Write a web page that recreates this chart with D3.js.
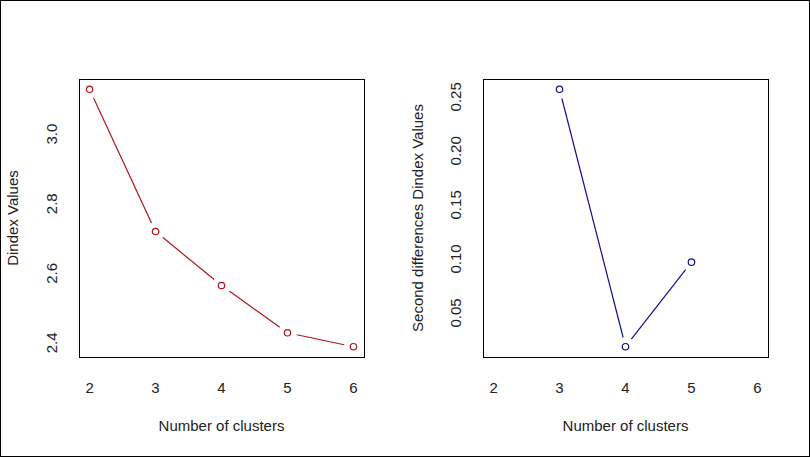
<!DOCTYPE html>
<html><head><meta charset="utf-8">
<script src="https://cdn.jsdelivr.net/npm/d3@7"></script>
<style>html,body{margin:0;padding:0;background:#fff;} svg{display:block;font-family:"Liberation Sans",Arial,sans-serif;}</style>
</head><body>
<svg id="c" width="810" height="457"></svg>
<script>
const clustersLeft = [2, 3, 4, 5, 6];
const dindexValues = [3.129, 2.720, 2.565, 2.429, 2.389];
const clustersRight = [3, 4, 5];
const secondDiffValues = [0.257, 0.0187, 0.097];
const xTicks = [2, 3, 4, 5, 6];
const yTicksLeft = [2.4, 2.6, 2.8, 3.0];
const yTicksRight = [0.05, 0.10, 0.15, 0.20, 0.25];

const svg = d3.select("#c");
svg.append("rect").attr("x",0.5).attr("y",0.5).attr("width",809).attr("height",456)
  .attr("fill","#fff").attr("stroke","#000").attr("stroke-width",1);

function panel(opts){
  const {left, right, top, bottom, xs, ys, yTicks, yFmt, color, ylab, ylabX, tickX} = opts;
  const ext = (a,b)=>{const r=b-a;return [a-0.04*r,b+0.04*r];};
  const x = d3.scaleLinear().domain(ext(2,6)).range([left,right]);
  const yd = d3.extent(ys);
  const y = d3.scaleLinear().domain(ext(yd[0],yd[1])).range([bottom,top]);
  const g = svg.append("g");
  g.append("rect").attr("x",left+0.5).attr("y",top+0.5).attr("width",right-left).attr("height",bottom-top)
    .attr("fill","none").attr("stroke","#000").attr("stroke-width",1);
  // x tick labels
  g.selectAll(".xt").data(xTicks).enter().append("text")
    .attr("x",d=>x(d)).attr("y",393).attr("text-anchor","middle")
    .attr("font-size",15).attr("fill","#222").text(d=>d);
  // y tick labels (rotated)
  g.selectAll(".yt").data(yTicks).enter().append("text")
    .attr("transform",d=>`translate(${tickX},${y(d)}) rotate(-90)`)
    .attr("text-anchor","middle").attr("font-size",15).attr("fill","#222").text(yFmt);
  // axis titles
  g.append("text").attr("x",(left+right)/2).attr("y",431).attr("text-anchor","middle")
    .attr("font-size",15).attr("fill","#222").text("Number of clusters");
  g.append("text").attr("transform",`translate(${ylabX},${(top+bottom)/2}) rotate(-90)`)
    .attr("text-anchor","middle").attr("font-size",15).attr("fill","#222").text(ylab);
  // type="b" segments with gaps
  const pts = xs.map((d,i)=>[x(d), y(ys[i])]);
  const gap = 9.5;
  for(let i=0;i<pts.length-1;i++){
    const [x1,y1]=pts[i],[x2,y2]=pts[i+1];
    const dx=x2-x1, dy=y2-y1, L=Math.hypot(dx,dy);
    if(L>2*gap){
      const ux=dx/L, uy=dy/L;
      g.append("line").attr("x1",x1+ux*gap).attr("y1",y1+uy*gap)
        .attr("x2",x2-ux*gap).attr("y2",y2-uy*gap)
        .attr("stroke",color).attr("stroke-width",1.2);
    }
  }
  g.selectAll("circle").data(pts).enter().append("circle")
    .attr("cx",d=>d[0]).attr("cy",d=>d[1]).attr("r",3.2)
    .attr("fill","none").attr("stroke",color).attr("stroke-width",1.2);
}

panel({left:79, right:364, top:79, bottom:357, xs:clustersLeft, ys:dindexValues,
  yTicks:yTicksLeft, yFmt:d=>d3.format(".1f")(d), color:"#b0141e",
  ylab:"Dindex Values", ylabX:18, tickX:57});
panel({left:483, right:768, top:79, bottom:357, xs:clustersRight, ys:secondDiffValues,
  yTicks:yTicksRight, yFmt:d=>d3.format(".2f")(d), color:"#10108a",
  ylab:"Second differences Dindex Values", ylabX:423, tickX:461});
</script>
</body></html>
